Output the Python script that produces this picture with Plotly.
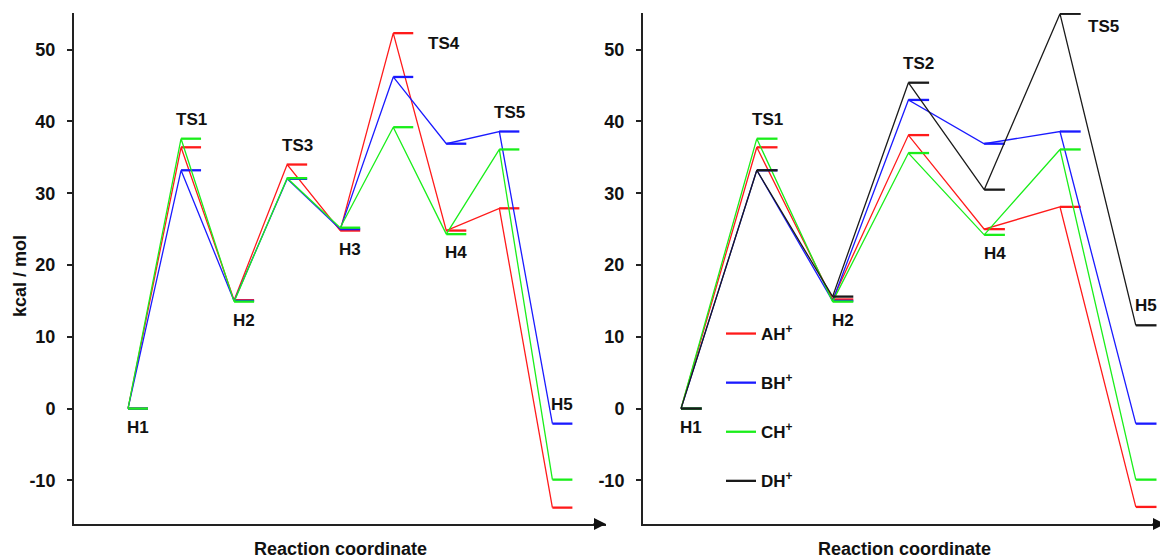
import plotly.graph_objects as go

# ---------------- data ----------------
left_stages = ["H1", "TS1", "H2", "TS3", "H3", "TS4", "H4", "TS5", "H5"]
AH_left = [0, 36.4, 15.1, 34.0, 24.8, 52.3, 24.8, 27.9, -13.8]
BH_left = [0, 33.2, 15.0, 32.0, 25.0, 46.2, 36.9, 38.6, -2.1]
CH_left = [0, 37.6, 14.9, 32.1, 25.2, 39.2, 24.3, 36.1, -9.9]

right_stages = ["H1", "TS1", "H2", "TS2", "H4", "TS5", "H5"]
AH_right = [0, 36.4, 15.2, 38.1, 25.0, 28.1, -13.7]
BH_right = [0, 33.2, 15.0, 43.0, 36.9, 38.6, -2.1]
CH_right = [0, 37.6, 14.9, 35.6, 24.2, 36.1, -9.9]
DH_right = [0, 33.2, 15.6, 45.4, 30.5, 55.0, 11.6]

series_names = ["AH<sup>+</sup>", "BH<sup>+</sup>", "CH<sup>+</sup>", "DH<sup>+</sup>"]
series_colors = ["#ff1a1a", "#1a1aff", "#1aee1a", "#1a1a1a"]

# label placement for each stage ("above", "below", "right")
left_label_pos = ["below", "above", "below", "above", "below", "right", "below", "above", "above"]
right_label_pos = ["below", "above", "below", "above", "below", "right", "above"]

y_ticks = [-10, 0, 10, 20, 30, 40, 50]
y_ticktext = ["-10", "0", "10", "20", "30", "40", "50"]
y_range = [-16.08, 55.11]

FONT = "Liberation Sans, Arial, sans-serif"
W, H = 1168, 559
OFF = 8                      # page body margin offset
MT, MB = 13 - OFF, H - (524 - OFF)
PH = H - MT - MB

def px_x(x):                 # reference pixel -> paper x
    return (x - OFF) / W

def px_y(y):                 # reference pixel -> paper y
    return (H - MB - (y - OFF)) / PH

fig = go.Figure()

def add_panel(stages, series, xaxis, yaxis, level_w, showlegend):
    n = len(stages)
    for k, vals in enumerate(series):
        if vals is None:
            continue
        # connectors between the left ends of consecutive levels
        fig.add_trace(go.Scatter(
            x=list(range(n)), y=vals, mode="lines",
            line=dict(color=series_colors[k], width=1.3),
            xaxis=xaxis, yaxis=yaxis, showlegend=False, hoverinfo="skip",
            cliponaxis=False, legendgroup=series_names[k]))
        # energy levels
        lx, ly = [], []
        for i, v in enumerate(vals):
            lx += [i, i + level_w, None]
            ly += [v, v, None]
        fig.add_trace(go.Scatter(
            x=lx, y=ly, mode="lines",
            line=dict(color=series_colors[k], width=2.3),
            xaxis=xaxis, yaxis=yaxis, name=series_names[k],
            showlegend=showlegend, legendgroup=series_names[k],
            cliponaxis=False, hoverinfo="skip"))

lab_font = dict(family=FONT, size=17, color="#111", weight="bold")

def add_labels(stages, series, pos, xref, yref, level_w, right_shift):
    for i, s in enumerate(stages):
        vals = [v[i] for v in series if v is not None]
        if pos[i] == "above":
            fig.add_annotation(x=i + level_w / 2, y=max(vals), xref=xref, yref=yref,
                               text=s, showarrow=False, yanchor="bottom", yshift=8,
                               font=lab_font)
        elif pos[i] == "below":
            fig.add_annotation(x=i + level_w / 2, y=min(vals), xref=xref, yref=yref,
                               text=s, showarrow=False, yanchor="top", yshift=-7,
                               font=lab_font)
        else:
            fig.add_annotation(x=i + level_w, y=max(vals), xref=xref, yref=yref,
                               text=s, showarrow=False, xanchor="left",
                               xshift=right_shift[0], yshift=right_shift[1],
                               font=lab_font)

lw_left = 20 / 53.05
lw_right = 20.7 / 75.8

add_panel(left_stages, [AH_left, BH_left, CH_left, None], "x", "y", lw_left, False)
add_panel(right_stages, [AH_right, BH_right, CH_right, DH_right], "x2", "y2", lw_right, True)
add_labels(left_stages, [AH_left, BH_left, CH_left], left_label_pos, "x", "y", lw_left, (13, -10))
add_labels(right_stages, [AH_right, BH_right, CH_right, DH_right], right_label_pos, "x2", "y2",
           lw_right, (5, -13))

axis_common = dict(showgrid=False, zeroline=False, showline=True, linecolor="#222",
                   linewidth=2, automargin=False)
ytick_font = dict(family=FONT, size=18, color="#111", weight="bold")
title_font = dict(family=FONT, size=18, color="#111", weight="bold")

fig.update_layout(
    width=W, height=H,
    margin=dict(l=0, r=0, t=MT, b=MB, autoexpand=False),
    paper_bgcolor="white", plot_bgcolor="white",
    xaxis=dict(domain=[px_x(74), px_x(606)], range=[(74 - 128) / 53.05, (606 - 128) / 53.05],
               showticklabels=False, ticks="", **axis_common),
    yaxis=dict(domain=[0, 1], range=y_range, tickvals=y_ticks, ticktext=y_ticktext,
               ticks="outside", ticklen=5, tickwidth=1.5, tickcolor="#222",
               tickfont=ytick_font, ticklabelstandoff=8, **axis_common),
    xaxis2=dict(domain=[px_x(643), px_x(1165)], range=[(643 - 681) / 75.8, (1165 - 681) / 75.8],
                anchor="y2", showticklabels=False, ticks="", **axis_common),
    yaxis2=dict(domain=[0, 1], range=y_range, tickvals=y_ticks, ticktext=y_ticktext,
                anchor="x2", ticks="outside", ticklen=5, tickwidth=1.5, tickcolor="#222",
                tickfont=ytick_font, ticklabelstandoff=8, **axis_common),
    legend=dict(x=px_x(721), y=px_y(316), xanchor="left", yanchor="top",
                font=dict(family=FONT, size=17, color="#111", weight="bold"),
                bgcolor="rgba(0,0,0,0)", tracegroupgap=24, itemwidth=30),
    showlegend=True,
)

# axis titles
for xr in ["x domain", "x2 domain"]:
    fig.add_annotation(x=0.5, y=px_y(549), xref=xr, yref="paper", text="Reaction coordinate",
                       showarrow=False, font=title_font, yanchor="middle")
fig.add_annotation(x=px_x(20), y=px_y(276), xref="paper", yref="paper", text="kcal / mol",
                   textangle=-90, showarrow=False, font=title_font,
                   xanchor="center", yanchor="middle")

# arrow heads at the end of the reaction-coordinate axes
for xr, yr in [("x domain", "y domain"), ("x2 domain", "y2 domain")]:
    fig.add_annotation(x=1.0, y=0, xref=xr, yref=yr, ax=-14, ay=0, axref="pixel",
                       showarrow=True, arrowhead=2, arrowsize=1.2, arrowwidth=2,
                       arrowcolor="#111", text="")

fig.write_html("out.html")
